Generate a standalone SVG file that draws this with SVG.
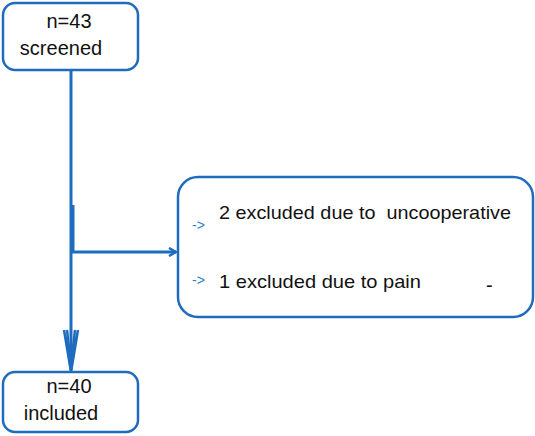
<svg xmlns="http://www.w3.org/2000/svg" width="535" height="436" viewBox="0 0 535 436">
<defs>
<style>
.box{fill:#fff;stroke:#1f6cbf;stroke-width:2.5}
.t{font-family:"Liberation Sans",Arial,sans-serif;fill:#111;font-size:20px}
.r{font-size:19px}
.c{text-anchor:middle}
.ar{font-family:"Liberation Sans",sans-serif;fill:#2f7fd0;font-size:14px}
.ln{fill:none;stroke:#1f6cbf;stroke-width:3}
</style>
<marker id="ah" markerWidth="10" markerHeight="10" refX="8" refY="5" orient="auto" markerUnits="userSpaceOnUse">
<path d="M1,1 L8,5 L1,9" fill="none" stroke="#1f6cbf" stroke-width="2.5"/>
</marker>
</defs>
<rect width="535" height="436" fill="#fff"/>
<g id="connectors">
<path class="ln" d="M71,70 V370"/>
<path class="ln" d="M73,205 V252"/>
<path class="ln" d="M71,252 H176" marker-end="url(#ah)"/>
<path d="M64,330 L71,372 L78,330 M67,330 L71,366 L75,330" fill="none" stroke="#1f6cbf" stroke-width="2.5"/>
</g>
<g id="screened">
<rect class="box" x="3" y="3" width="135" height="67" rx="12"/>
<text class="t c" x="69" y="28">n=43</text>
<text class="t c" x="61" y="55">screened</text>
</g>
<g id="excluded">
<rect class="box" x="178" y="177" width="355" height="140" rx="20"/>
<text class="ar" x="192" y="230">-&gt;</text>
<text class="t r" x="219" y="219" textLength="292" lengthAdjust="spacingAndGlyphs" xml:space="preserve">2 excluded due to  uncooperative</text>
<text class="ar" x="192" y="285">-&gt;</text>
<text class="t r" x="219" y="288" textLength="202" lengthAdjust="spacingAndGlyphs">1 excluded due to pain</text>
<text class="t" x="486" y="292" font-size="12">-</text>
</g>
<g id="included">
<rect class="box" x="3" y="372" width="135" height="60" rx="12"/>
<text class="t c" x="69" y="393">n=40</text>
<text class="t c" x="61" y="420">included</text>
</g>
</svg>
